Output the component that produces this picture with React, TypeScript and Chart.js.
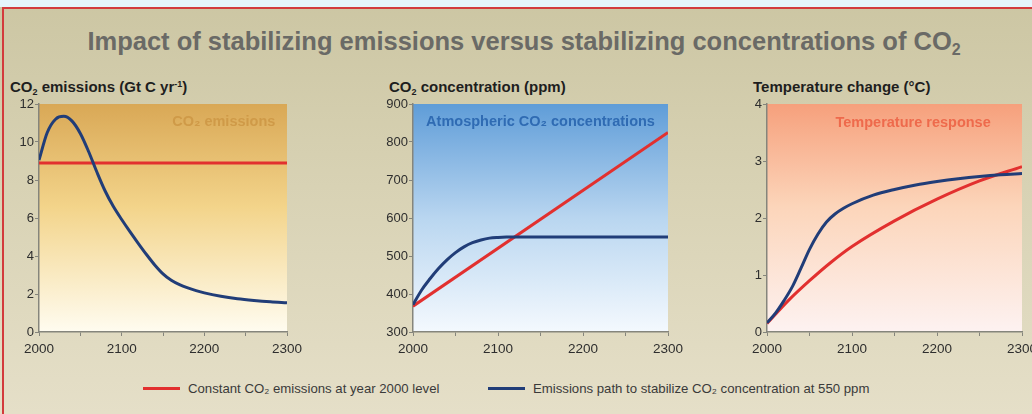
import React, { useEffect, useRef } from "react";
import { Chart, registerables } from "chart.js";

Chart.register(...registerables);

// ---------- DATA ----------
const xTickYears = [2000, 2100, 2200, 2300];

const emConstYears = [2000, 2300];
const emConstValues = [8.9, 8.9];
const emPathYears = [2000, 2010, 2020, 2030, 2040, 2050, 2060, 2070, 2080, 2090, 2100, 2110, 2120, 2130, 2140, 2150, 2160, 2170, 2180, 2190, 2200, 2220, 2240, 2260, 2280, 2300];
const emPathValues = [9.05, 10.5, 11.2, 11.35, 11.1, 10.45, 9.5, 8.42, 7.42, 6.6, 5.92, 5.28, 4.67, 4.08, 3.53, 3.06, 2.72, 2.49, 2.32, 2.18, 2.06, 1.88, 1.75, 1.66, 1.59, 1.54];

const concConstYears = [2000, 2300];
const concConstValues = [368, 825];
const concPathYears = [2000, 2010, 2020, 2030, 2040, 2050, 2060, 2070, 2080, 2090, 2100, 2110, 2150, 2200, 2250, 2300];
const concPathValues = [372, 410, 440, 467, 490, 509, 524, 535, 542, 547, 549, 550, 550, 550, 550, 550];

const tempConstYears = [2000, 2025, 2050, 2075, 2100, 2150, 2200, 2250, 2300];
const tempConstValues = [0.15, 0.55, 0.9, 1.22, 1.5, 1.95, 2.33, 2.65, 2.9];
const tempPathYears = [2000, 2010, 2020, 2030, 2040, 2050, 2060, 2070, 2080, 2090, 2100, 2125, 2150, 2175, 2200, 2225, 2250, 2275, 2300];
const tempPathValues = [0.16, 0.33, 0.55, 0.8, 1.12, 1.45, 1.72, 1.93, 2.07, 2.17, 2.25, 2.4, 2.5, 2.58, 2.64, 2.69, 2.73, 2.76, 2.78];

const seriesNames = [
  "Constant CO\u2082 emissions at year 2000 level",
  "Emissions path to stabilize CO\u2082 concentration at 550 ppm",
];

// ---------- STYLE ----------
const FONT = '"Liberation Sans", Arial, Helvetica, sans-serif';
const RED = "#e2302f";
const BLUE = "#213d78";
const AXIS = "#85857c";

const toPts = (xs: number[], ys: number[]) => xs.map((x, i) => ({ x, y: ys[i] }));

type PanelProps = {
  left: number;
  width: number;
  rightPad: number;
  yMin: number;
  yMax: number;
  yStep: number;
  red: { x: number; y: number }[];
  blue: { x: number; y: number }[];
  stops: [number, string][];
  label: string;
  labelColor: string;
  labelFx: number;
  labelFy: number;
};

const TOP = 95;
const AREA_TOP = 104;
const AREA_BOTTOM = 332;
const Y_AXIS_W = 39;
const X_AXIS_H = 30;

function Panel(p: PanelProps) {
  const ref = useRef<HTMLCanvasElement | null>(null);
  useEffect(() => {
    if (!ref.current) return;
    const bg = {
      id: "panelBg",
      beforeDraw(chart: any) {
        const { ctx, chartArea: a } = chart;
        const g = ctx.createLinearGradient(0, a.top, 0, a.bottom);
        p.stops.forEach(([o, c]) => g.addColorStop(o, c));
        ctx.save();
        ctx.fillStyle = g;
        ctx.fillRect(a.left, a.top, a.right - a.left, a.bottom - a.top);
        ctx.font = `bold 14.5px ${FONT}`;
        ctx.fillStyle = p.labelColor;
        ctx.textAlign = "center";
        ctx.textBaseline = "middle";
        ctx.fillText(p.label, a.left + p.labelFx * (a.right - a.left), a.top + p.labelFy * (a.bottom - a.top));
        ctx.restore();
      },
    };
    const line = (label: string, data: any, color: string) => ({
      label,
      data,
      borderColor: color,
      borderWidth: 3,
      pointRadius: 0,
      cubicInterpolationMode: "monotone",
      fill: false,
    });
    const chart = new Chart(ref.current, {
      type: "line",
      data: {
        datasets: [line(seriesNames[1], p.blue, BLUE), line(seriesNames[0], p.red, RED)],
      },
      options: {
        animation: false,
        responsive: false,
        maintainAspectRatio: false,
        layout: { padding: { left: 0, top: AREA_TOP - TOP, right: p.rightPad, bottom: 0 } },
        plugins: { legend: { display: false }, tooltip: { enabled: false }, title: { display: false } },
        scales: {
          x: {
            type: "linear",
            min: 2000,
            max: 2300,
            afterFit(scale: any) {
              scale.height = X_AXIS_H;
              scale.paddingLeft = 0;
              scale.paddingRight = 0;
            },
            border: { display: true, color: AXIS, width: 1.5 },
            grid: { display: true, drawOnChartArea: false, drawTicks: true, tickLength: 4, color: AXIS, lineWidth: 1 },
            ticks: {
              stepSize: 50,
              autoSkip: false,
              maxRotation: 0,
              padding: 5,
              color: "#2e2e2e",
              font: { family: FONT, size: 13.5 },
              callback: (v: any) => (xTickYears.includes(Number(v)) ? String(v) : ""),
            },
          },
          y: {
            min: p.yMin,
            max: p.yMax,
            afterFit(scale: any) {
              scale.width = Y_AXIS_W;
            },
            border: { display: true, color: AXIS, width: 1.5 },
            grid: { display: true, drawOnChartArea: false, drawTicks: true, tickLength: 4, color: AXIS, lineWidth: 1 },
            ticks: {
              stepSize: p.yStep,
              padding: 1,
              color: "#2e2e2e",
              font: { family: FONT, size: 13 },
              callback: (v: any) => String(v),
            },
          },
        },
      },
      plugins: [bg],
    } as any);
    return () => chart.destroy();
  }, []);
  const h = AREA_BOTTOM - TOP + X_AXIS_H;
  return (
    <canvas
      ref={ref}
      width={p.width}
      height={h}
      style={{ position: "absolute", left: p.left, top: TOP, width: p.width, height: h }}
    />
  );
}

const subStyle: React.CSSProperties = { fontSize: 9, verticalAlign: "baseline", position: "relative", top: 3 };
const supStyle: React.CSSProperties = { fontSize: 9, verticalAlign: "baseline", position: "relative", top: -5 };

const panelTitle = (text: React.ReactNode, left: number) => (
  <div
    style={{
      position: "absolute",
      left,
      top: 78,
      fontFamily: FONT,
      fontWeight: "bold",
      fontSize: 15,
      lineHeight: "18px",
      color: "#1e1e1e",
      whiteSpace: "nowrap",
    }}
  >
    {text}
  </div>
);

export default function App() {
  return (
    <div
      style={{
        position: "absolute",
        left: 0,
        top: 0,
        width: 1032,
        height: 414,
        overflow: "hidden",
        background: "linear-gradient(to bottom, #ccc6a3 0%, #d8d2b4 45%, #e5dfc8 100%)",
      }}
    >
      <div style={{ position: "absolute", left: 0, top: 0, width: 1032, height: 7, background: "#e5f4fb" }} />
      <div style={{ position: "absolute", left: 2, top: 7, width: 1030, height: 2, background: "#d33a3c" }} />
      <div style={{ position: "absolute", left: 2, top: 7, width: 2, height: 407, background: "#d33a3c" }} />
      <div
        style={{
          position: "absolute",
          left: 0,
          width: 1048,
          top: 25,
          textAlign: "center",
          fontFamily: FONT,
          fontWeight: "bold",
          fontSize: 25.5,
          lineHeight: "32px",
          color: "#6a6a66",
          whiteSpace: "nowrap",
        }}
      >
        Impact of stabilizing emissions versus stabilizing concentrations of CO
        <span style={{ fontSize: 16, position: "relative", top: 5 }}>2</span>
      </div>

      {panelTitle(<>CO<span style={subStyle}>2</span> emissions (Gt C yr<span style={supStyle}>-1</span>)</>, 10)}
      {panelTitle(<>CO<span style={subStyle}>2</span> concentration (ppm)</>, 389)}
      {panelTitle(<>Temperature change (°C)</>, 753)}

      <Panel
        left={0}
        width={303}
        rightPad={16}
        yMin={0}
        yMax={12}
        yStep={2}
        red={toPts(emConstYears, emConstValues)}
        blue={toPts(emPathYears, emPathValues)}
        stops={[[0, "#d9a856"], [0.45, "#f3d48a"], [1, "#fffcf0"]]}
        label={"CO\u2082 emissions"}
        labelColor="#cf9a48"
        labelFx={0.745}
        labelFy={0.08}
      />
      <Panel
        left={374}
        width={310}
        rightPad={16}
        yMin={300}
        yMax={900}
        yStep={100}
        red={toPts(concConstYears, concConstValues)}
        blue={toPts(concPathYears, concPathValues)}
        stops={[[0, "#5f9dd8"], [0.5, "#b9d6f0"], [1, "#f4f9fe"]]}
        label={"Atmospheric CO\u2082 concentrations"}
        labelColor="#2f6bb3"
        labelFx={0.5}
        labelFy={0.08}
      />
      <Panel
        left={728}
        width={304}
        rightPad={10}
        yMin={0}
        yMax={4}
        yStep={1}
        red={toPts(tempConstYears, tempConstValues)}
        blue={toPts(tempPathYears, tempPathValues)}
        stops={[[0, "#f6a07c"], [0.45, "#fcd5ba"], [1, "#fdf2f1"]]}
        label={"Temperature response"}
        labelColor="#ee6a4c"
        labelFx={0.573}
        labelFy={0.085}
      />

      <div
        style={{
          position: "absolute",
          left: 143,
          top: 380,
          height: 16,
          display: "flex",
          alignItems: "center",
          fontFamily: FONT,
          fontSize: 13.2,
          color: "#3a3a3a",
          whiteSpace: "nowrap",
        }}
      >
        <span style={{ display: "inline-block", width: 37, height: 3, background: RED, marginRight: 8 }} />
        <span style={{ width: 300 }}>{seriesNames[0]}</span>
        <span style={{ display: "inline-block", width: 37, height: 3, background: BLUE, marginRight: 8 }} />
        <span>{seriesNames[1]}</span>
      </div>
    </div>
  );
}
